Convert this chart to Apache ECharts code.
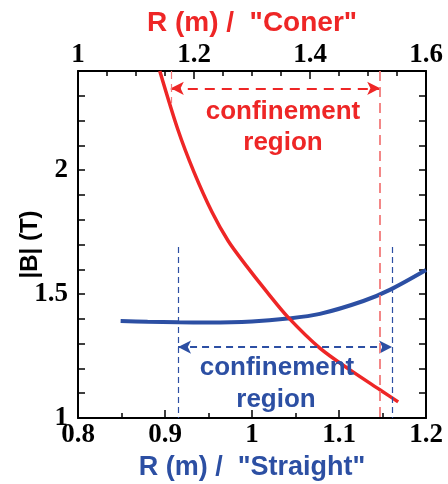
<!DOCTYPE html>
<html>
<head>
<meta charset="utf-8">
<script src="https://cdn.jsdelivr.net/npm/echarts@6/dist/echarts.min.js"></script>
<style>
  html, body { margin: 0; padding: 0; background: #fff; }
  #chart { width: 448px; height: 484px; }
</style>
</head>
<body>
<div id="chart"></div>
<script>
// |B| along the major radius, "Coner" section (top axis)
const coneR = [1.141, 1.172, 1.200, 1.231, 1.259, 1.288, 1.326, 1.362, 1.417, 1.469, 1.521, 1.552];
const coneB = [2.400, 2.165, 1.992, 1.831, 1.714, 1.621, 1.508, 1.407, 1.282, 1.194, 1.113, 1.065];

// |B| along the major radius, "Straight" section (bottom axis)
const straightR = [0.849, 0.880, 0.915, 0.950, 1.000, 1.041, 1.078, 1.128, 1.159, 1.200];
const straightB = [1.391, 1.388, 1.386, 1.385, 1.389, 1.401, 1.420, 1.472, 1.518, 1.597];

// confinement regions
const coneRegion = [1.16, 1.521];
const coneArrowB = 2.33;
const coneStubB = 2.27;
const straightRegion = [0.915, 1.161];
const straightArrowB = 1.286;
const straightGuideTop = 1.69;

// tick labels
const bottomTickLabels = ['0.8', '0.9', '1', '1.1', '1.2'];
const topTickLabels = ['1', '1.2', '1.4', '1.6'];
const leftTickLabels = ['1', '1.5', '2'];

const RED = '#ee2626';
const PINK = '#f27a7a';
const BLUE = '#2c4fa3';

const pick = (labels) => (v) => {
  const hit = labels.find((s) => Math.abs(parseFloat(s) - v) < 1e-6);
  return hit === undefined ? '' : hit;
};

const tickFont = {
  fontFamily: '"Liberation Serif", "DejaVu Serif", serif',
  fontWeight: 'bold',
  fontSize: 27,
  color: '#000'
};
const axisLine = { show: true, onZero: false, lineStyle: { color: '#000', width: 2 } };
const tickLine = { color: '#000', width: 1.5 };

const chart = echarts.init(document.getElementById('chart'), null, { renderer: 'canvas' });

chart.setOption({
  animation: false,
  backgroundColor: '#fff',
  grid: { left: 78, right: 22, top: 71, bottom: 66, containLabel: false, outerBoundsMode: 'none' },
  xAxis: [
    {
      type: 'value', position: 'bottom',
      min: 0.8, max: 1.2, interval: 0.1,
      axisLine: axisLine,
      axisTick: { show: true, inside: true, length: 8, lineStyle: tickLine },
      minorTick: { show: true, splitNumber: 2, length: 5, lineStyle: tickLine },
      splitLine: { show: false },
      axisLabel: Object.assign({ margin: 4, formatter: pick(bottomTickLabels) }, tickFont),
      name: 'R (m) /  "Straight"',
      nameLocation: 'middle', nameGap: 36, nameMoveOverlap: false,
      nameTextStyle: { fontFamily: 'Liberation Sans', fontWeight: 'bold', fontSize: 27, color: BLUE }
    },
    {
      type: 'value', position: 'top',
      min: 1, max: 1.6, interval: 0.2,
      axisLine: axisLine,
      axisTick: { show: true, inside: true, length: 8, lineStyle: tickLine },
      minorTick: { show: true, splitNumber: 4, length: 5, lineStyle: tickLine },
      splitLine: { show: false },
      axisLabel: Object.assign({ margin: 2, formatter: pick(topTickLabels) }, tickFont),
      name: 'R (m) /  "Coner"',
      nameLocation: 'middle', nameGap: 34, nameMoveOverlap: false,
      nameTextStyle: { fontFamily: 'Liberation Sans', fontWeight: 'bold', fontSize: 28, color: RED }
    }
  ],
  yAxis: [
    {
      type: 'value', position: 'left',
      min: 1, max: 2.4, interval: 0.1,
      axisLine: axisLine,
      axisTick: { show: true, inside: true, length: 7, lineStyle: tickLine },
      splitLine: { show: false },
      axisLabel: Object.assign({ margin: 10, formatter: pick(leftTickLabels) }, tickFont),
      name: '|B| (T)',
      nameLocation: 'middle', nameGap: 36, nameMoveOverlap: false,
      nameTextStyle: { fontFamily: 'Liberation Sans', fontWeight: 'bold', fontSize: 24, color: '#000' }
    },
    {
      type: 'value', position: 'right',
      min: 1, max: 2.4, interval: 0.1,
      axisLine: axisLine,
      axisTick: { show: true, inside: true, length: 7, lineStyle: tickLine },
      splitLine: { show: false },
      axisLabel: { show: false }
    }
  ],
  series: [
    {
      name: 'Straight',
      type: 'line',
      xAxisIndex: 0, yAxisIndex: 0,
      data: straightR.map((r, i) => [r, straightB[i]]),
      smooth: 0.3,
      showSymbol: false,
      lineStyle: { color: BLUE, width: 4 },
      z: 3,
      markLine: {
        silent: true, animation: false,
        label: { show: false },
        data: [
          [
            { coord: [straightRegion[0], straightArrowB], symbol: 'arrow', symbolSize: [10, 13],
              lineStyle: { color: BLUE, width: 2, type: [7, 5] } },
            { coord: [straightRegion[1], straightArrowB], symbol: 'arrow', symbolSize: [10, 13] }
          ],
          [
            { coord: [straightRegion[0], straightGuideTop], symbol: 'none',
              lineStyle: { color: BLUE, width: 1.2, type: [6, 4] } },
            { coord: [straightRegion[0], 1], symbol: 'none' }
          ],
          [
            { coord: [straightRegion[1], straightGuideTop], symbol: 'none',
              lineStyle: { color: BLUE, width: 1.2, type: [6, 4] } },
            { coord: [straightRegion[1], 1], symbol: 'none' }
          ]
        ]
      }
    },
    {
      name: 'Coner',
      type: 'line',
      xAxisIndex: 1, yAxisIndex: 0,
      data: coneR.map((r, i) => [r, coneB[i]]),
      smooth: 0.3,
      showSymbol: false,
      lineStyle: { color: RED, width: 3.5 },
      z: 4,
      markLine: {
        silent: true, animation: false,
        label: { show: false },
        data: [
          [
            { coord: [coneRegion[0], coneArrowB], symbol: 'arrow', symbolSize: [10, 13],
              lineStyle: { color: RED, width: 2, type: [10, 7] } },
            { coord: [coneRegion[1], coneArrowB], symbol: 'arrow', symbolSize: [10, 13] }
          ],
          [
            { coord: [coneRegion[0], 2.4], symbol: 'none',
              lineStyle: { color: PINK, width: 1.2, type: [8, 5] } },
            { coord: [coneRegion[0], coneStubB], symbol: 'none' }
          ],
          [
            { coord: [coneRegion[1], 2.4], symbol: 'none',
              lineStyle: { color: PINK, width: 1.8, type: [10, 6] } },
            { coord: [coneRegion[1], 1], symbol: 'none' }
          ]
        ]
      }
    }
  ],
  graphic: [
    { type: 'text', x: 283, y: 112, z: 10,
      style: { text: 'confinement', fill: RED, font: 'bold 26px "Liberation Sans"', textAlign: 'center', textVerticalAlign: 'middle' } },
    { type: 'text', x: 283, y: 143, z: 10,
      style: { text: 'region', fill: RED, font: 'bold 26px "Liberation Sans"', textAlign: 'center', textVerticalAlign: 'middle' } },
    { type: 'text', x: 277, y: 368, z: 10,
      style: { text: 'confinement', fill: BLUE, font: 'bold 26px "Liberation Sans"', textAlign: 'center', textVerticalAlign: 'middle' } },
    { type: 'text', x: 276, y: 400, z: 10,
      style: { text: 'region', fill: BLUE, font: 'bold 26px "Liberation Sans"', textAlign: 'center', textVerticalAlign: 'middle' } }
  ]
});
</script>
</body>
</html>
